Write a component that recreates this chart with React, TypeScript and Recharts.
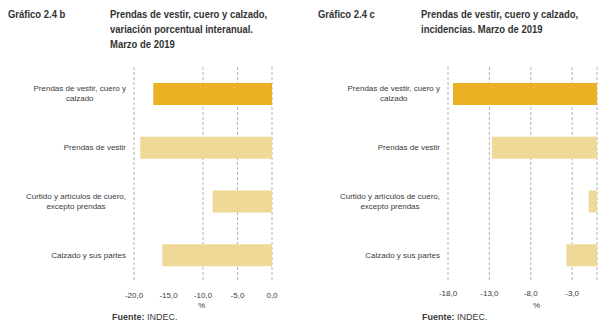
import { BarChart, Bar, XAxis, YAxis, CartesianGrid, Cell } from 'recharts';

const categories = [
  'Prendas de vestir, cuero y\ncalzado',
  'Prendas de vestir',
  'Curtido y artículos de cuero,\nexcepto prendas',
  'Calzado y sus partes',
];

// variación porcentual interanual (%)
const variacion = [-17.2, -19.1, -8.6, -15.9];
// incidencias (puntos porcentuales)
const incidencias = [-17.4, -12.7, -1.0, -3.7];

const ticksB = [-20, -15, -10, -5, 0];
const ticksC = [-18, -13, -8, -3];

const HIGHLIGHT = '#E9B123';
const LIGHT = '#F0D896';
const FONT = 'Liberation Sans, Arial, sans-serif';

let ctx: CanvasRenderingContext2D | null = null;
function textWidth(s: string) {
  if (!ctx) ctx = document.createElement('canvas').getContext('2d');
  if (!ctx) return s.length * 4;
  ctx.font = `8px ${FONT}`;
  return ctx.measureText(s).width;
}

function CategoryTick(props: any) {
  const { x, y, payload } = props;
  const lines: string[] = String(payload.value).split('\n');
  const maxW = Math.max(...lines.map(textWidth));
  const cx = x - maxW / 2;
  const startY = y - ((lines.length - 1) * 10) / 2;
  return (
    <g>
      {lines.map((l, i) => (
        <text
          key={i}
          x={cx}
          y={startY + i * 10}
          textAnchor="middle"
          dominantBaseline="central"
          fontSize={8}
          fontFamily={FONT}
          fill="#3a3a3a"
        >
          {l}
        </text>
      ))}
    </g>
  );
}

const fmt = (v: number) => v.toFixed(1).replace('.', ',');

interface PanelProps {
  values: number[];
  domain: [number, number];
  ticks: number[];
  axisWidth: number;
  marginRight: number;
  tickMargin: number;
}

function Panel({ values, domain, ticks, axisWidth, marginRight, tickMargin }: PanelProps) {
  const data = categories.map((name, i) => ({ name, value: values[i] }));
  return (
    <BarChart
      width={306}
      height={335}
      data={data}
      layout="vertical"
      margin={{ top: 67, right: marginRight, bottom: 23, left: 0 }}
      barCategoryGap={0}
    >
      <CartesianGrid horizontal={false} stroke="#b5b5b5" strokeDasharray="3 2" />
      <XAxis
        type="number"
        domain={domain}
        ticks={ticks}
        allowDataOverflow
        tickFormatter={fmt}
        axisLine={false}
        tickLine={false}
        tickMargin={tickMargin}
        height={30}
        tick={{ fontSize: 8, fontFamily: FONT, fill: '#3a3a3a' }}
      />
      <YAxis
        type="category"
        dataKey="name"
        width={axisWidth}
        axisLine={false}
        tickLine={false}
        tickSize={0}
        tickMargin={8}
        tick={<CategoryTick />}
        interval={0}
      />
      <YAxis
        yAxisId="frame"
        type="number"
        orientation="right"
        domain={[0, 4]}
        ticks={[0, 1, 2, 3, 4]}
        mirror
        width={0}
        tickSize={3}
        stroke="#8a8a8a"
        tick={() => <g />}
      />
      <Bar dataKey="value" barSize={22} isAnimationActive={false}>
        {data.map((_, i) => (
          <Cell key={`c-${i}`} fill={i === 0 ? HIGHLIGHT : LIGHT} />
        ))}
      </Bar>
    </BarChart>
  );
}

const titleStyle: React.CSSProperties = {
  position: 'absolute',
  fontFamily: FONT,
  fontWeight: 'bold',
  fontSize: 11,
  lineHeight: '15px',
  color: '#333',
  whiteSpace: 'nowrap',
  transform: 'scaleX(0.86)',
  transformOrigin: 'left top',
};

const smallStyle: React.CSSProperties = {
  position: 'absolute',
  fontFamily: FONT,
  fontSize: 8,
  color: '#3a3a3a',
  whiteSpace: 'nowrap',
};

export default function App() {
  return (
    <div style={{ position: 'absolute', left: 0, top: 0, width: 612, height: 335, background: '#fff' }}>
      <div style={{ position: 'absolute', left: 0, top: 0 }}>
        <Panel values={variacion} domain={[-20, 0]} ticks={ticksB} axisWidth={134} marginRight={34} tickMargin={4} />
      </div>
      <div style={{ position: 'absolute', left: 306, top: 0 }}>
        <Panel values={incidencias} domain={[-18, 0]} ticks={ticksC} axisWidth={142} marginRight={15} tickMargin={2} />
      </div>

      <div style={{ ...titleStyle, left: 8, top: 7 }}>Gráfico 2.4 b</div>
      <div style={{ ...titleStyle, left: 110, top: 7 }}>
        Prendas de vestir, cuero y calzado,
        <br />
        variación porcentual interanual.
        <br />
        Marzo de 2019
      </div>
      <div style={{ ...titleStyle, left: 318, top: 7 }}>Gráfico 2.4 c</div>
      <div style={{ ...titleStyle, left: 421, top: 7 }}>
        Prendas de vestir, cuero y calzado,
        <br />
        incidencias. Marzo de 2019
      </div>

      <div style={{ ...smallStyle, left: 198, top: 301 }}>%</div>
      <div style={{ ...smallStyle, left: 533, top: 301 }}>%</div>

      <div style={{ ...smallStyle, left: 112, top: 312, fontSize: 9 }}>
        <b>Fuente:</b> INDEC.
      </div>
      <div style={{ ...smallStyle, left: 422, top: 312, fontSize: 9 }}>
        <b>Fuente:</b> INDEC.
      </div>
    </div>
  );
}
